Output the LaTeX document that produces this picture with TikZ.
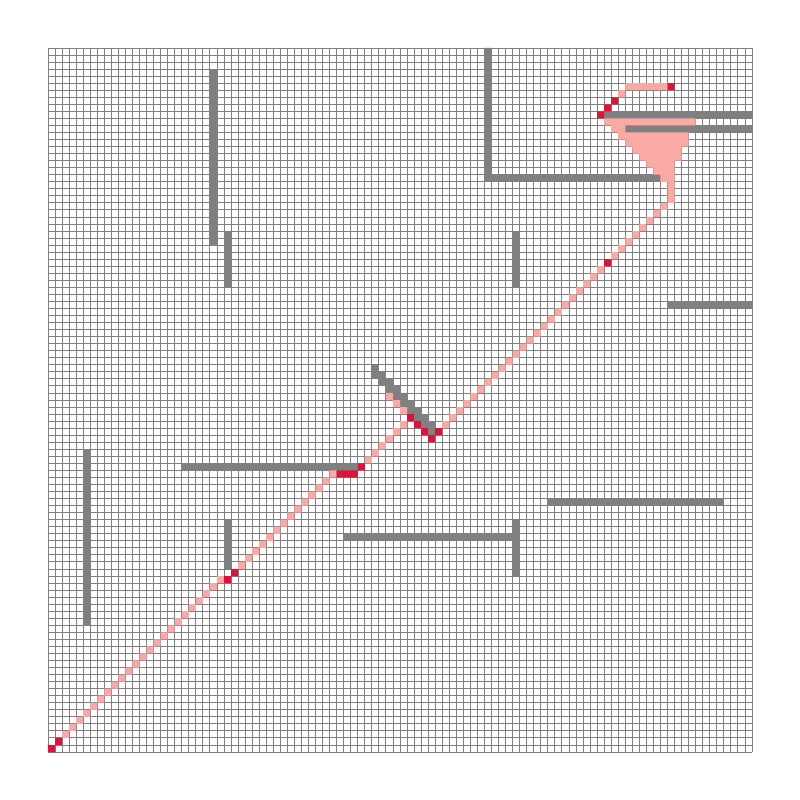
\documentclass[tikz,border=0pt]{standalone}
\definecolor{wallc}{RGB}{128,128,128}
\definecolor{pathc}{RGB}{250,170,165}
\definecolor{keyc}{RGB}{220,20,60}
\definecolor{gridc}{RGB}{128,128,128}
\begin{document}
\begin{tikzpicture}[x=0.25cm,y=-0.25cm,
  wall/.style={fill=wallc},
  pathcell/.style={fill=pathc},
  keycell/.style={fill=keyc},
  gridstyle/.style={draw=gridc,line width=0.9pt}]
\fill[white] (-6.818,-6.818) rectangle (106.818,106.818);
\useasboundingbox (-6.818,-6.818) rectangle (106.818,106.818);
% grid
\draw[gridstyle,step=0.25cm] (0,0) grid (100,100);
% walls
\fill[wall] (23,3) rectangle (24,28);
\fill[wall] (25,26) rectangle (26,34);
\fill[wall] (62,0) rectangle (63,19) (62,18) rectangle (87,19);
\fill[wall] (79,9) rectangle (100,10);
\fill[wall] (82,11) rectangle (100,12);
\fill[wall] (66,26) rectangle (67,34);
\fill[wall] (88,36) rectangle (100,37);
\fill[wall] \foreach \c in {46,...,54} {(\c,\c-1) rectangle ++(1,2)};
\fill[wall] (19,59) rectangle (44,60);
\fill[wall] (5,57) rectangle (6,82);
\fill[wall] (25,67) rectangle (26,74);
\fill[wall] (71,64) rectangle (96,65);
\fill[wall] (42,69) rectangle (67,70) (66,67) rectangle (67,75);
% path cells
\fill[pathcell] \foreach \c in {2,...,24} {(\c,99-\c) rectangle ++(1,1)};
\fill[pathcell] \foreach \c in {27,...,40} {(\c,100-\c) rectangle ++(1,1)};
\fill[pathcell] \foreach \c in {45,...,50} {(\c,103-\c) rectangle ++(1,1)};
\fill[pathcell] \foreach \c in {48,49,50} {(\c,\c+1) rectangle ++(1,1)};
\fill[pathcell] \foreach \c in {56,...,78} {(\c,109-\c) rectangle ++(1,1)};
\fill[pathcell] \foreach \c in {80,...,88} {(\c,109-\c) rectangle ++(1,1)};
\fill[pathcell] (88,19) rectangle (89,21)
  (79,10) rectangle (92,11)
  (80,11) rectangle (82,12)
  (81,12) rectangle (91,13)
  (82,13) rectangle (91,14)
  (83,14) rectangle (90,15)
  (84,15) rectangle (90,16)
  (85,16) rectangle (89,17)
  (86,17) rectangle (89,18)
  (87,18) rectangle (89,19)
  (81,6) rectangle (82,7)
  (82,5) rectangle (88,6);
% key cells
\fill[keycell] (0,99) rectangle ++(1,1) (1,98) rectangle ++(1,1)
  (25,75) rectangle ++(1,1) (26,74) rectangle ++(1,1)
  (41,60) rectangle (44,61) (44,59) rectangle ++(1,1)
  (51,52) rectangle ++(1,1) (52,53) rectangle ++(1,1)
  (53,54) rectangle ++(1,1) (54,55) rectangle ++(1,1)
  (55,54) rectangle ++(1,1) (79,30) rectangle ++(1,1)
  (78,9) rectangle ++(1,1) (79,8) rectangle ++(1,1)
  (80,7) rectangle ++(1,1) (88,5) rectangle ++(1,1);
\end{tikzpicture}
\end{document}
